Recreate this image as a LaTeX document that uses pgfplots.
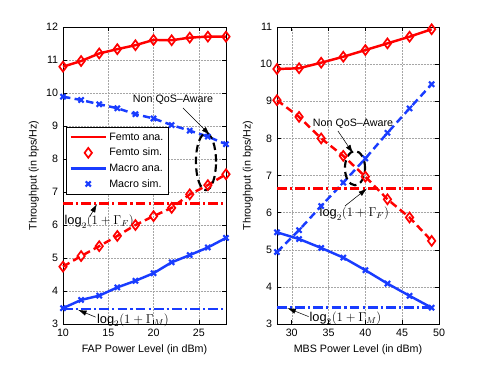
\documentclass[border=0pt]{standalone}
\usepackage{fontspec}
\setmainfont{Liberation Sans}
\usepackage{pgfplots}
\pgfplotsset{compat=1.18}
\usetikzlibrary{arrows.meta}

\definecolor{fred}{RGB}{255,0,0}
\definecolor{mblue}{RGB}{25,60,255}

\tikzset{
  arr/.style={-{Latex[length=8pt,width=5pt]}, line width=0.5pt, black},
  ell/.style={black, line width=2pt, dash pattern=on 7pt off 4pt},
  ana/.style={line width=2.3pt},
  dsh/.style={line width=2.3pt, dash pattern=on 7pt off 4pt},
  dd/.style={line width=2.3pt, dash pattern=on 9pt off 3pt on 2pt off 3pt},
  dia/.style={mark=diamond, mark size=4.6pt, mark options={solid, line width=1.6pt}},
  xx/.style={mark=x, mark size=3.4pt, mark options={solid, line width=2pt}},
  lg/.style={font=\large},
}
\pgfplotsset{
  thr/.style={
    scale only axis, anchor=south west,
    height=277.7pt,
    tick align=inside, major tick length=4pt,
    grid=major, grid style={densely dotted, gray!70},
    ylabel={Throughput (in bps/Hz)},
    /pgf/number format/assume math mode=true,
    xticklabel style={yshift=-1.5pt},
    yticklabel style={xshift=-1pt},
    axis line style={black, line width=0.5pt},
    every tick/.style={black, line width=0.5pt},
    clip=false,
    legend image code/.code={\draw[mark repeat=2,mark phase=2,#1] plot coordinates {(0pt,0pt) (16.5pt,0pt) (33pt,0pt)};},
  },
}

\begin{document}
\begin{tikzpicture}
\path[use as bounding box] (0pt,0pt) rectangle (453.5pt,341.3pt);

% left panel
\begin{axis}[thr, at={(58.9pt,38.3pt)}, width=152.4pt,
  xmin=10, xmax=28, ymin=3, ymax=12,
  xtick={10,15,20,25}, ytick={3,4,...,12},
  xlabel={FAP Power Level (in dBm)},
  legend style={at={(0.018,0.663)}, anchor=north west, draw=black, fill=white,
    line width=0.5pt, cells={anchor=west}, row sep=2pt, inner sep=3pt},
]
\addplot[fred, ana, forget plot] coordinates {(10,10.80) (12,10.97) (14,11.20) (16,11.33) (18,11.45) (20,11.61) (22,11.60) (24,11.68) (26,11.71) (28,11.71)};
\addplot[fred, only marks, dia, forget plot] coordinates {(10,10.80) (12,10.97) (14,11.20) (16,11.33) (18,11.45) (20,11.61) (22,11.60) (24,11.68) (26,11.71) (28,11.71)};
\addplot[mblue, ana, forget plot] coordinates {(10,3.48) (12,3.73) (14,3.86) (16,4.11) (18,4.31) (20,4.54) (22,4.87) (24,5.09) (26,5.32) (28,5.61)};
\addplot[mblue, only marks, xx, forget plot] coordinates {(10,3.48) (12,3.73) (14,3.86) (16,4.11) (18,4.31) (20,4.54) (22,4.87) (24,5.09) (26,5.32) (28,5.61)};
\addplot[fred, dsh, dia, forget plot] coordinates {(10,4.74) (12,5.06) (14,5.36) (16,5.67) (18,6.00) (20,6.27) (22,6.52) (24,6.93) (26,7.21) (28,7.54)};
\addplot[mblue, dsh, xx, forget plot] coordinates {(10,9.89) (12,9.79) (14,9.66) (16,9.54) (18,9.36) (20,9.23) (22,9.03) (24,8.86) (26,8.68) (28,8.45)};
\addplot[fred, dd, forget plot] coordinates {(10,6.65) (28,6.65)};
\addplot[mblue, dd, forget plot] coordinates {(10,3.45) (28,3.45)};
\addlegendimage{fred, line width=2.3pt}
\addlegendentry{Femto ana.}
\addlegendimage{fred, only marks, mark=diamond, mark size=4.6pt, mark options={solid, line width=1.6pt}}
\addlegendentry{Femto sim.}
\addlegendimage{mblue, line width=2.3pt}
\addlegendentry{Macro ana.}
\addlegendimage{mblue, only marks, mark=x, mark size=3.4pt, mark options={solid, line width=2pt}}
\addlegendentry{Macro sim.}
\node at (axis cs:22.15,9.79) {Non QoS\textendash Aware};
\draw[arr] (axis cs:23.25,9.55) -- (axis cs:26.23,8.73);
\draw[ell] (axis cs:25.79,7.92) ellipse [x radius=9.4pt, y radius=26.6pt];
\node[lg] at (axis cs:14.0,6.1) {$\log_2(1+\Gamma_F)$};
\draw[arr] (axis cs:12.98,6.26) -- (axis cs:13.75,6.64);
\node[lg] at (axis cs:17.73,3.12) {$\log_2(1+\Gamma_M)$};
\draw[arr] (axis cs:13.6,3.21) -- (axis cs:11.66,3.43);
\end{axis}

% right panel
\begin{axis}[thr, at={(259.0pt,38.3pt)}, width=151.5pt,
  xmin=28, xmax=50, ymin=3, ymax=11,
  xtick={30,35,...,50}, ytick={3,4,...,11},
  xlabel={MBS Power Level (in dBm)},
]
\addplot[fred, ana, dia] coordinates {(28,9.87) (31,9.89) (34,10.04) (37,10.20) (40,10.38) (43,10.56) (46,10.74) (49,10.94)};
\addplot[fred, dsh, dia] coordinates {(28,9.03) (31,8.58) (34,8.00) (37,7.53) (40,6.97) (43,6.36) (46,5.87) (49,5.24)};
\addplot[mblue, dsh, xx] coordinates {(28,4.94) (31,5.53) (34,6.18) (37,6.81) (40,7.46) (43,8.15) (46,8.81) (49,9.46)};
\addplot[mblue, ana, xx] coordinates {(28,5.47) (31,5.29) (34,5.05) (37,4.79) (40,4.45) (43,4.09) (46,3.76) (49,3.44)};
\addplot[fred, dd] coordinates {(28,6.65) (49,6.65)};
\addplot[mblue, dd] coordinates {(28,3.45) (49,3.45)};
\node at (axis cs:38.32,8.39) {Non QoS\textendash Aware};
\draw[arr] (axis cs:36.28,8.20) -- (axis cs:38.32,7.60);
\draw[ell] (axis cs:38.59,7.20) ellipse [x radius=9.4pt, y radius=16pt];
\node[lg] at (axis cs:38.5,5.97) {$\log_2(1+\Gamma_F)$};
\draw[arr] (axis cs:37.23,6.18) -- (axis cs:40.22,6.65);
\node[lg] at (axis cs:37.3,3.16) {$\log_2(1+\Gamma_M)$};
\draw[arr] (axis cs:32.3,3.2) -- (axis cs:29.4,3.43);
\end{axis}
\end{tikzpicture}
\end{document}
